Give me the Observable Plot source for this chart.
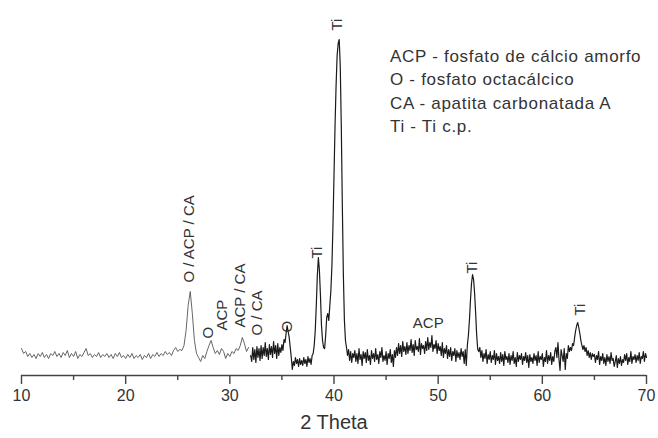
<!DOCTYPE html>
<html><head><meta charset="utf-8">
<script src="https://cdn.jsdelivr.net/npm/d3@7"></script>
<script src="https://cdn.jsdelivr.net/npm/@observablehq/plot@0.6"></script>
<style>
body{margin:0;background:#fff;font-family:"Liberation Sans",Arial,sans-serif;}
#wrap{position:relative;width:658px;height:438px;}
#legend{position:absolute;left:390px;top:45px;font-size:17px;line-height:23.3px;letter-spacing:0.7px;color:#333;white-space:nowrap;}
</style></head><body><div id="wrap"><div id="legend"></div></div>
<script>
// 2θ sampling of the light left part (10 → 31.8, step 0.2)
const leftStart = 10, leftStep = 0.2;
const leftIntensity = [
  27,22,24,19,22,18,21,17,22,19,
  23,18,21,17,22,20,24,19,22,18,
  23,20,25,18,22,19,24,17,21,19,
  23,27,20,22,18,21,19,23,18,21,
  19,22,18,21,17,22,19,23,18,20,
  17,21,18,22,17,20,18,21,16,20,
  18,22,17,21,19,23,19,22,20,24,
  21,23,20,25,28,24,26,25,30,45,
  70,84,62,35,22,18,14,20,17,24,
  30,35,28,22,25,21,27,24,17,22,
  19,24,22,27,25,30,38,32,24,28
];
// dense dark part (32.0 → 70.0, step 0.1)
const denseStart = 32, denseStep = 0.1;
const denseIntensity = [
  20,14,28,16,26,13,29,18,27,15,
  30,17,28,20,33,19,27,16,31,21,
  29,18,34,22,30,17,32,20,28,23,
  31,25,36,33,42,50,44,38,28,18,
  6,14,10,18,12,16,9,17,11,15,
  10,18,12,16,9,19,13,17,11,20,
  22,30,45,70,100,118,105,80,50,35,
  28,27,40,58,62,55,70,85,110,150,
  200,250,290,320,332,336,310,250,170,100,
  55,35,28,20,26,15,24,13,22,18,
  25,14,22,12,27,16,21,10,24,17,
  23,13,26,15,20,11,25,17,22,14,
  27,16,21,12,24,18,28,14,20,15,
  24,11,22,17,26,13,21,9,25,18,
  28,20,32,22,30,19,34,24,29,21,
  33,22,30,25,36,23,31,20,35,26,
  29,24,37,21,32,27,30,22,34,25,
  38,26,33,28,40,24,31,27,35,22,
  32,25,29,20,33,18,27,22,30,17,
  26,19,28,15,24,20,27,14,25,18,
  23,16,27,19,24,12,26,10,30,40,
  55,75,92,101,96,82,62,40,26,24,
  28,18,25,14,22,17,26,12,21,16,
  24,13,20,16,25,11,22,15,19,12,
  23,14,21,10,24,16,19,13,22,11,
  20,15,24,12,18,9,23,14,20,16,
  22,11,19,15,23,13,20,8,21,14,
  18,12,22,15,20,10,24,13,19,16,
  22,9,18,14,25,12,20,15,23,11,
  19,14,24,28,18,33,16,5,26,20,
  14,27,6,22,17,30,24,28,25,32,
  30,38,45,50,53,48,42,35,30,26,
  30,24,28,20,25,18,23,16,22,19,
  21,13,20,16,24,11,19,15,22,12,
  18,10,21,14,19,12,23,15,17,9,
  14,20,8,17,12,19,10,16,13,21,
  15,22,11,18,14,24,12,19,16,21,
  13,20,15,23,12,19,17,24,14,22,
  18
];
const xTicks = [10, 20, 30, 40, 50, 60, 70];
const xMinorTicks = [15, 25, 35, 45, 55, 65];
const peakLabels = ["O / ACP / CA", "O", "ACP", "ACP / CA", "O / CA", "O", "Ti", "Ti", "Ti", "Ti"];
const peakX = [26.05, 27.95, 29.3, 31.0, 32.65, 35.5, 38.4, 40.3, 53.3, 63.65];
const peakY = [93, 37, 45, 48, 40, 43, 117, 345, 102, 60];
const bumpLabel = ["ACP"];
const bumpX = [49.05];
const bumpY = [52];
const legendLines = [
  "ACP - fosfato de cálcio amorfo",
  "O - fosfato octacálcico",
  "CA - apatita carbonatada A",
  "Ti - Ti c.p."
];
const xLabel = "2 Theta";

const leftData = leftIntensity.map((v, i) => ({x: leftStart + i * leftStep, y: v}));
const denseData = denseIntensity.map((v, i) => ({x: denseStart + i * denseStep, y: v}));
const peaks = peakLabels.map((t, i) => ({t, x: peakX[i], y: peakY[i]}));
const bumps = bumpLabel.map((t, i) => ({t, x: bumpX[i], y: bumpY[i]}));

const chart = Plot.plot({
  width: 658, height: 438,
  marginLeft: 21, marginRight: 12, marginTop: 35, marginBottom: 63,
  x: {domain: [10, 70]},
  y: {domain: [0, 340], axis: null},
  style: {fontFamily: "Liberation Sans, Arial, sans-serif", color: "#333", background: "white", overflow: "visible"},
  marks: [
    Plot.axisX({ticks: xTicks, tickSize: 9, tickPadding: 5, fontSize: 16, stroke: "#444", strokeWidth: 1.4, label: null}),
    Plot.axisX({ticks: xMinorTicks, tickSize: 5, tickFormat: () => "", stroke: "#444", strokeWidth: 1.4, label: null}),
    Plot.ruleY([0], {stroke: "#444", strokeWidth: 1.6}),
    Plot.line(leftData, {x: "x", y: "y", stroke: "#555", strokeWidth: 0.9}),
    Plot.line(denseData, {x: "x", y: "y", stroke: "#1a1a1a", strokeWidth: 1.2}),
    Plot.text(peaks, {x: "x", y: "y", text: "t", rotate: -90, textAnchor: "start", fontSize: 15, fill: "#333"}),
    Plot.text(bumps, {x: "x", y: "y", text: "t", fontSize: 15, fill: "#333"}),
    Plot.text([xLabel], {frameAnchor: "bottom", dy: 53, fontSize: 20, fill: "#333"})
  ]
});
document.getElementById("wrap").prepend(chart);
document.getElementById("legend").innerHTML = legendLines.map(s => `<div>${s}</div>`).join("");
</script>
</body></html>
